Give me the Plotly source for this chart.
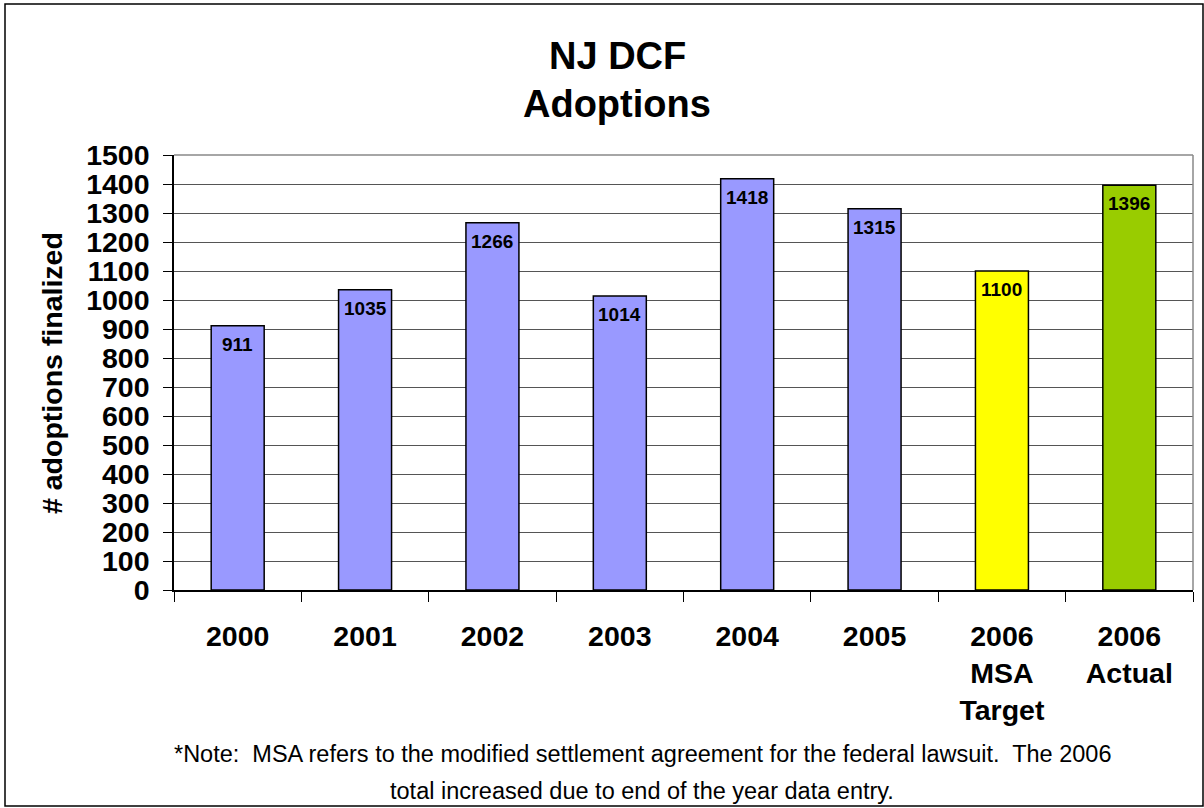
import plotly.graph_objects as go

categories = ["2000", "2001", "2002", "2003", "2004", "2005",
              "2006<br>MSA<br>Target", "2006<br>Actual"]
adoptions = [911, 1035, 1266, 1014, 1418, 1315, 1100, 1396]
bar_colors = ["#9999FF"] * 6 + ["#FFFF00", "#99CC00"]
title_lines = ["NJ DCF", "Adoptions"]
y_title = "# adoptions finalized"
note_lines = [
    "*Note:  MSA refers to the modified settlement agreement for the federal lawsuit.  The 2006",
    "total increased due to end of the year data entry.",
]

W, H = 1204, 808
L, R, T, B = 174, 1193, 155, 590
FONT = "Liberation Sans, Arial, sans-serif"


def px(x):
    return (x - L) / (R - L)


def py(y):
    return (B - y) / (B - T)


fig = go.Figure(go.Bar(
    x=categories,
    y=adoptions,
    marker=dict(color=bar_colors, line=dict(color="black", width=1.5)),
    hoverinfo="x+y",
))

fig.update_layout(
    width=W, height=H,
    margin=dict(l=L, r=W - R, t=T, b=H - B, autoexpand=False),
    paper_bgcolor="white", plot_bgcolor="white",
    bargap=0.584,
    showlegend=False,
    font=dict(family=FONT, color="black"),
)

fig.update_yaxes(
    range=[0, 1500], dtick=100, tick0=0,
    showgrid=True, gridcolor="#555555", gridwidth=1,
    showline=True, linecolor="black", linewidth=1.5,
    ticks="outside", ticklen=9, tickcolor="black",
    ticklabelstandoff=8,
    tickfont=dict(family=FONT, size=28.5, color="black", weight="bold"),
    zeroline=False,
)
fig.update_xaxes(
    type="category",
    categoryorder="array", categoryarray=categories,
    range=[-0.5, len(categories) - 0.5],
    showline=True, linecolor="black", linewidth=1.5,
    ticks="outside", ticklen=10, tickcolor="black", tickson="boundaries",
    ticklabelstandoff=20, tickangle=0,
    tickfont=dict(family=FONT, size=28.5, color="black", weight="bold"),
    showgrid=False,
)

shapes = [
    dict(type="line", xref="paper", yref="paper", x0=1, x1=1, y0=0, y1=1,
         line=dict(color="#888888", width=1.5)),
    dict(type="line", xref="paper", yref="paper", x0=0, x1=1, y0=1, y1=1,
         line=dict(color="#888888", width=1.5)),
    dict(type="rect", xref="paper", yref="paper",
         x0=px(5), x1=px(1203), y0=py(806), y1=py(4),
         line=dict(color="black", width=1.5)),
]
fig.update_layout(shapes=shapes)

annotations = [
    dict(text=title_lines[0], x=px(617), y=py(56), xref="paper", yref="paper",
         showarrow=False, xanchor="center", yanchor="middle",
         font=dict(family=FONT, size=38, color="black", weight="bold")),
    dict(text=title_lines[1], x=px(617), y=py(104), xref="paper", yref="paper",
         showarrow=False, xanchor="center", yanchor="middle",
         font=dict(family=FONT, size=38, color="black", weight="bold")),
    dict(text=y_title, x=px(52), y=py(373), xref="paper", yref="paper",
         showarrow=False, xanchor="center", yanchor="middle", textangle=-90,
         font=dict(family=FONT, size=28.5, color="black", weight="bold")),
    dict(text=note_lines[0], x=px(642), y=py(754), xref="paper", yref="paper",
         showarrow=False, xanchor="center", yanchor="middle",
         font=dict(family=FONT, size=23.5, color="black")),
    dict(text=note_lines[1], x=px(642), y=py(791), xref="paper", yref="paper",
         showarrow=False, xanchor="center", yanchor="middle",
         font=dict(family=FONT, size=23.5, color="black")),
]
# value labels just inside the top of each bar, placed through the axes
# (category index position on the category axis)
for i, val in enumerate(adoptions):
    annotations.append(dict(
        text=str(val), x=i, y=val, xref="x", yref="y",
        showarrow=False, xanchor="center", yanchor="top", yshift=-6,
        font=dict(family=FONT, size=19, color="black", weight="bold"),
    ))
fig.update_layout(annotations=annotations)

fig.write_html("out.html", config={"displayModeBar": False},
               post_script="document.body.style.margin='0';")
